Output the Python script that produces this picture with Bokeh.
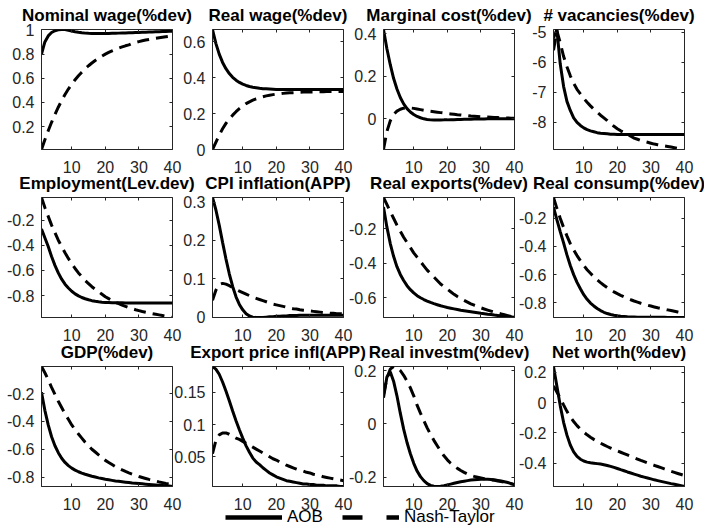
import numpy as np
from bokeh.plotting import figure
from bokeh.layouts import row, column
from bokeh.models import (Range1d, FixedTicker, LinearAxis, Legend, LegendItem,
                          CustomLabelingPolicy)
from bokeh.embed import file_html
from bokeh.resources import INLINE

quarters = list(range(1, 41))
xticks = [10, 20, 30, 40]
series_names = ["AOB", "Nash-Taylor"]

titles = ["Nominal wage(%dev)", "Real wage(%dev)", "Marginal cost(%dev)", "# vacancies(%dev)",
          "Employment(Lev.dev)", "CPI inflation(APP)", "Real exports(%dev)", "Real consump(%dev)",
          "GDP(%dev)", "Export price infl(APP)", "Real investm(%dev)", "Net worth(%dev)"]

aob_nominal_wage = [0.800, 0.900, 0.950, 0.978, 0.993, 1.000, 1.003, 1.002, 0.997, 0.991,
                    0.985, 0.980, 0.976, 0.973, 0.971, 0.970, 0.969, 0.969, 0.969, 0.969,
                    0.970, 0.971, 0.972, 0.973, 0.974, 0.975, 0.976, 0.977, 0.978, 0.979,
                    0.980, 0.981, 0.982, 0.983, 0.984, 0.985, 0.986, 0.987, 0.988, 0.989]
nt_nominal_wage = [0.010, 0.090, 0.165, 0.235, 0.300, 0.360, 0.415, 0.465, 0.510, 0.550,
                   0.587, 0.620, 0.650, 0.678, 0.703, 0.726, 0.747, 0.766, 0.783, 0.799,
                   0.813, 0.826, 0.838, 0.849, 0.859, 0.868, 0.876, 0.888, 0.896, 0.903,
                   0.910, 0.916, 0.921, 0.926, 0.931, 0.935, 0.939, 0.943, 0.947, 0.950]

aob_real_wage = [0.667, 0.590, 0.530, 0.484, 0.449, 0.422, 0.401, 0.385, 0.373, 0.363,
                 0.356, 0.350, 0.346, 0.343, 0.340, 0.338, 0.337, 0.336, 0.335, 0.334,
                 0.334, 0.333, 0.333, 0.333, 0.333, 0.333, 0.333, 0.333, 0.333, 0.333,
                 0.333, 0.333, 0.333, 0.333, 0.333, 0.333, 0.333, 0.333, 0.333, 0.333]
nt_real_wage = [0.000, 0.040, 0.080, 0.115, 0.145, 0.170, 0.191, 0.210, 0.227, 0.242,
                0.255, 0.265, 0.274, 0.282, 0.288, 0.293, 0.298, 0.302, 0.305, 0.308,
                0.310, 0.312, 0.314, 0.315, 0.316, 0.317, 0.318, 0.319, 0.319, 0.320,
                0.320, 0.321, 0.321, 0.321, 0.322, 0.322, 0.322, 0.323, 0.323, 0.323]

aob_marginal_cost = [0.419, 0.330, 0.255, 0.190, 0.140, 0.100, 0.070, 0.048, 0.032, 0.020,
                     0.011, 0.005, 0.000, -0.003, -0.005, -0.006, -0.006, -0.006, -0.005, -0.005,
                     -0.004, -0.004, -0.003, -0.003, -0.002, -0.002, -0.002, -0.001, -0.001, -0.001,
                     -0.001, 0.000, 0.000, 0.000, 0.000, 0.000, 0.000, 0.000, 0.000, 0.000]
nt_marginal_cost = [-0.144, -0.060, -0.010, 0.020, 0.036, 0.045, 0.050, 0.052, 0.051, 0.049,
                    0.046, 0.043, 0.040, 0.037, 0.035, 0.033, 0.031, 0.029, 0.027, 0.025,
                    0.023, 0.021, 0.019, 0.018, 0.016, 0.015, 0.013, 0.012, 0.011, 0.010,
                    0.009, 0.008, 0.007, 0.006, 0.006, 0.005, 0.004, 0.004, 0.003, 0.003]

aob_vacancies = [-5.20, -4.91, -6.05, -6.80, -7.30, -7.60, -7.85, -8.00, -8.10, -8.18,
                 -8.24, -8.28, -8.31, -8.34, -8.36, -8.37, -8.38, -8.39, -8.39, -8.40,
                 -8.40, -8.40, -8.40, -8.40, -8.40, -8.40, -8.40, -8.40, -8.40, -8.40,
                 -8.40, -8.40, -8.40, -8.40, -8.40, -8.40, -8.40, -8.40, -8.40, -8.40]
nt_vacancies = [-5.60, -4.95, -5.35, -5.80, -6.15, -6.45, -6.70, -6.90, -7.05, -7.20,
                -7.33, -7.45, -7.56, -7.66, -7.76, -7.85, -7.94, -8.05, -8.13, -8.21,
                -8.28, -8.34, -8.40, -8.46, -8.52, -8.56, -8.60, -8.63, -8.66, -8.69,
                -8.72, -8.74, -8.76, -8.78, -8.80, -8.82, -8.84, -8.86, -8.88, -8.90]

aob_employment = [-0.270, -0.340, -0.410, -0.490, -0.560, -0.620, -0.670, -0.710, -0.740, -0.766,
                  -0.787, -0.803, -0.816, -0.826, -0.834, -0.841, -0.846, -0.850, -0.853, -0.855,
                  -0.856, -0.857, -0.858, -0.858, -0.858, -0.859, -0.859, -0.859, -0.859, -0.860,
                  -0.860, -0.860, -0.860, -0.860, -0.860, -0.860, -0.860, -0.860, -0.860, -0.860]
nt_employment = [-0.020, -0.100, -0.170, -0.240, -0.300, -0.360, -0.410, -0.460, -0.505, -0.545,
                 -0.585, -0.620, -0.650, -0.680, -0.705, -0.730, -0.750, -0.770, -0.790, -0.810,
                 -0.825, -0.840, -0.855, -0.865, -0.877, -0.887, -0.897, -0.905, -0.913, -0.920,
                 -0.927, -0.933, -0.939, -0.944, -0.949, -0.954, -0.959, -0.964, -0.969, -0.975]

aob_cpi_inflation = [0.312, 0.280, 0.240, 0.195, 0.152, 0.113, 0.080, 0.053, 0.033, 0.019,
                     0.009, 0.003, 0.000, -0.001, -0.001, -0.001, 0.000, 0.001, 0.001, 0.002,
                     0.002, 0.003, 0.003, 0.004, 0.004, 0.004, 0.005, 0.005, 0.005, 0.005,
                     0.005, 0.005, 0.005, 0.005, 0.005, 0.005, 0.005, 0.005, 0.005, 0.005]
nt_cpi_inflation = [0.044, 0.070, 0.085, 0.088, 0.086, 0.082, 0.077, 0.072, 0.068, 0.064,
                    0.060, 0.056, 0.052, 0.049, 0.046, 0.043, 0.040, 0.037, 0.034, 0.032,
                    0.030, 0.028, 0.026, 0.024, 0.022, 0.021, 0.019, 0.018, 0.017, 0.016,
                    0.015, 0.014, 0.013, 0.012, 0.011, 0.010, 0.010, 0.009, 0.009, 0.008]

aob_real_exports = [-0.075, -0.190, -0.285, -0.360, -0.420, -0.465, -0.500, -0.530, -0.553, -0.572,
                    -0.588, -0.600, -0.610, -0.619, -0.627, -0.634, -0.640, -0.646, -0.651, -0.656,
                    -0.660, -0.664, -0.668, -0.672, -0.675, -0.678, -0.681, -0.684, -0.687, -0.690,
                    -0.692, -0.695, -0.697, -0.700, -0.702, -0.705, -0.707, -0.709, -0.711, -0.713]
nt_real_exports = [-0.020, -0.060, -0.100, -0.140, -0.180, -0.215, -0.250, -0.280, -0.310, -0.340,
                   -0.365, -0.390, -0.415, -0.440, -0.460, -0.480, -0.500, -0.520, -0.535, -0.550,
                   -0.565, -0.580, -0.593, -0.605, -0.615, -0.625, -0.635, -0.643, -0.651, -0.658,
                   -0.665, -0.671, -0.677, -0.683, -0.688, -0.693, -0.698, -0.703, -0.708, -0.714]

aob_real_consumption = [-0.122, -0.210, -0.295, -0.375, -0.460, -0.535, -0.600, -0.655, -0.700, -0.742,
                        -0.775, -0.802, -0.822, -0.840, -0.855, -0.867, -0.876, -0.883, -0.888, -0.892,
                        -0.895, -0.897, -0.899, -0.900, -0.901, -0.902, -0.902, -0.902, -0.902, -0.903,
                        -0.903, -0.903, -0.903, -0.903, -0.904, -0.904, -0.904, -0.904, -0.904, -0.904]
nt_real_consumption = [-0.053, -0.130, -0.200, -0.265, -0.325, -0.380, -0.425, -0.465, -0.500, -0.535,
                       -0.565, -0.590, -0.615, -0.637, -0.657, -0.675, -0.692, -0.708, -0.722, -0.735,
                       -0.747, -0.758, -0.768, -0.778, -0.787, -0.795, -0.803, -0.810, -0.817, -0.823,
                       -0.829, -0.835, -0.840, -0.845, -0.850, -0.855, -0.860, -0.865, -0.870, -0.875]

aob_gdp = [-0.190, -0.320, -0.425, -0.510, -0.575, -0.625, -0.665, -0.695, -0.718, -0.736,
           -0.750, -0.762, -0.772, -0.780, -0.787, -0.794, -0.800, -0.806, -0.811, -0.816,
           -0.820, -0.824, -0.828, -0.831, -0.834, -0.837, -0.840, -0.843, -0.845, -0.847,
           -0.849, -0.851, -0.853, -0.855, -0.857, -0.859, -0.861, -0.863, -0.865, -0.868]
nt_gdp = [-0.005, -0.050, -0.100, -0.155, -0.205, -0.255, -0.300, -0.345, -0.385, -0.425,
          -0.460, -0.490, -0.520, -0.550, -0.575, -0.600, -0.620, -0.640, -0.660, -0.680,
          -0.695, -0.710, -0.725, -0.737, -0.749, -0.760, -0.770, -0.779, -0.788, -0.796,
          -0.803, -0.810, -0.817, -0.823, -0.829, -0.835, -0.840, -0.846, -0.851, -0.857]

aob_export_price = [0.190, 0.186, 0.178, 0.166, 0.152, 0.137, 0.121, 0.106, 0.092, 0.079,
                    0.067, 0.057, 0.048, 0.042, 0.038, 0.033, 0.029, 0.025, 0.022, 0.019,
                    0.017, 0.015, 0.013, 0.012, 0.011, 0.010, 0.009, 0.008, 0.008, 0.007,
                    0.007, 0.006, 0.006, 0.006, 0.005, 0.005, 0.005, 0.005, 0.004, 0.004]
nt_export_price = [0.055, 0.075, 0.084, 0.087, 0.087, 0.085, 0.082, 0.079, 0.077, 0.074,
                   0.071, 0.068, 0.065, 0.062, 0.059, 0.056, 0.053, 0.050, 0.047, 0.045,
                   0.042, 0.040, 0.037, 0.035, 0.033, 0.031, 0.029, 0.028, 0.026, 0.025,
                   0.023, 0.022, 0.021, 0.019, 0.018, 0.017, 0.016, 0.015, 0.014, 0.013]

aob_real_investment = [0.098, 0.175, 0.195, 0.160, 0.105, 0.040, -0.020, -0.070, -0.112, -0.148,
                       -0.177, -0.198, -0.213, -0.224, -0.231, -0.234, -0.235, -0.234, -0.232, -0.229,
                       -0.226, -0.223, -0.220, -0.217, -0.215, -0.213, -0.211, -0.210, -0.209, -0.208,
                       -0.208, -0.208, -0.209, -0.210, -0.212, -0.214, -0.217, -0.220, -0.224, -0.228]
nt_real_investment = [0.110, 0.170, 0.205, 0.215, 0.212, 0.200, 0.182, 0.160, 0.135, 0.105,
                      0.070, 0.040, 0.012, -0.015, -0.040, -0.062, -0.082, -0.102, -0.120, -0.135,
                      -0.148, -0.158, -0.167, -0.175, -0.182, -0.188, -0.193, -0.197, -0.200, -0.203,
                      -0.206, -0.208, -0.210, -0.212, -0.214, -0.216, -0.219, -0.222, -0.225, -0.228]

aob_net_worth = [0.238, 0.110, -0.020, -0.130, -0.215, -0.280, -0.325, -0.355, -0.374, -0.386,
                 -0.393, -0.397, -0.400, -0.403, -0.406, -0.410, -0.415, -0.421, -0.428, -0.435,
                 -0.443, -0.450, -0.458, -0.465, -0.472, -0.479, -0.486, -0.492, -0.498, -0.504,
                 -0.510, -0.515, -0.520, -0.525, -0.530, -0.535, -0.539, -0.544, -0.549, -0.554]
nt_net_worth = [0.110, 0.070, 0.030, -0.015, -0.058, -0.095, -0.125, -0.152, -0.175, -0.195,
                -0.213, -0.229, -0.243, -0.256, -0.268, -0.279, -0.290, -0.300, -0.310, -0.319,
                -0.328, -0.337, -0.346, -0.355, -0.364, -0.373, -0.382, -0.390, -0.398, -0.406,
                -0.414, -0.422, -0.430, -0.438, -0.446, -0.454, -0.461, -0.468, -0.475, -0.482]

yticks = [[0.2, 0.4, 0.6, 0.8, 1], [0, 0.2, 0.4, 0.6], [0, 0.2, 0.4], [-8, -7, -6, -5],
          [-0.8, -0.6, -0.4, -0.2], [0, 0.1, 0.2, 0.3], [-0.6, -0.4, -0.2], [-0.8, -0.6, -0.4, -0.2],
          [-0.8, -0.6, -0.4, -0.2], [0.05, 0.1, 0.15], [-0.2, 0, 0.2], [-0.4, -0.2, 0, 0.2]]
ytick_labels = [["0.2", "0.4", "0.6", "0.8", "1"], ["0", "0.2", "0.4", "0.6"], ["0", "0.2", "0.4"],
                ["-8", "-7", "-6", "-5"], ["-0.8", "-0.6", "-0.4", "-0.2"], ["0", "0.1", "0.2", "0.3"],
                ["-0.6", "-0.4", "-0.2"], ["-0.8", "-0.6", "-0.4", "-0.2"], ["-0.8", "-0.6", "-0.4", "-0.2"],
                ["0.05", "0.1", "0.15"], ["-0.2", "0", "0.2"], ["-0.4", "-0.2", "0", "0.2"]]

aob_series = [aob_nominal_wage, aob_real_wage, aob_marginal_cost, aob_vacancies,
              aob_employment, aob_cpi_inflation, aob_real_exports, aob_real_consumption,
              aob_gdp, aob_export_price, aob_real_investment, aob_net_worth]
nt_series = [nt_nominal_wage, nt_real_wage, nt_marginal_cost, nt_vacancies,
             nt_employment, nt_cpi_inflation, nt_real_exports, nt_real_consumption,
             nt_gdp, nt_export_price, nt_real_investment, nt_net_worth]

# layout geometry (page origin at 0,0: bokeh's template has no body margin)
FRAME_W, FRAME_H = 131, 120
TOP, BOTTOM = 32, 30
col_left = [40, 45, 45, 45]
col_right = [30, 30, 30, 20]
col_margin = [1, -35, -35, -36]
row_margin = [-3, -14, -13]
AX = "#262626"
FONT = "Liberation Sans"
DASH = "12 7"


def style_axis(ax, ticks, labels_on, standoff):
    ax.ticker = FixedTicker(ticks=ticks)
    ax.major_tick_in = 3
    ax.major_tick_out = 0
    ax.minor_tick_line_color = None
    ax.axis_line_color = AX
    ax.major_tick_line_color = AX
    ax.major_label_text_font = FONT
    ax.major_label_text_color = AX
    ax.major_label_standoff = standoff
    if labels_on:
        ax.major_label_text_font_size = "16px"
    else:
        ax.major_label_text_font_size = "0px"
        ax.major_label_policy = CustomLabelingPolicy(code="return")


def panel(i):
    c = i % 4
    aob, nt = aob_series[i], nt_series[i]
    lo = min(min(aob), min(nt))
    hi = max(max(aob), max(nt))
    p = figure(width=col_left[c] + FRAME_W + col_right[c], height=TOP + FRAME_H + BOTTOM,
               output_backend="svg", toolbar_location=None,
               x_range=Range1d(1, 40), y_range=Range1d(lo, hi),
               min_border_left=col_left[c], min_border_right=col_right[c],
               min_border_top=TOP, min_border_bottom=BOTTOM,
               border_fill_color=None, background_fill_color="white",
               outline_line_color=AX, outline_line_width=1,
               title=titles[i], margin=(0, 0, 0, col_margin[c]))
    p.title.align = "center"
    p.title.text_font = FONT
    p.title.text_font_size = "17px"
    p.title.text_font_style = "bold"
    p.title.text_color = "black"
    p.title.standoff = 9
    p.grid.visible = False
    style_axis(p.xaxis[0], xticks, True, 11)
    style_axis(p.yaxis[0], yticks[i], True, 7)
    p.yaxis[0].major_label_overrides = {t: s for t, s in zip(yticks[i], ytick_labels[i])}
    top = LinearAxis()
    style_axis(top, xticks, False, 0)
    top.axis_line_color = None
    p.add_layout(top, "above")
    right = LinearAxis()
    style_axis(right, yticks[i], False, 0)
    right.axis_line_color = None
    p.add_layout(right, "right")
    p.line(quarters, aob, line_color="black", line_width=3)
    p.line(quarters, nt, line_color="black", line_width=3, line_dash=DASH)
    return p


figs = [panel(i) for i in range(12)]
rows = [row(figs[4 * r:4 * r + 4], margin=(row_margin[r], 0, 0, 0)) for r in range(3)]

lg = figure(width=684, height=22, output_backend="svg", toolbar_location=None,
            x_axis_location=None, y_axis_location=None, min_border=0,
            outline_line_color=None, border_fill_color=None, background_fill_color=None,
            x_range=Range1d(0, 1), y_range=Range1d(0, 1), margin=(-11, 0, -11, 0))
lg.grid.visible = False
# legend-only renderers: no visible data
r_aob = lg.line(x=np.array([0.0]), y=np.array([np.nan]), line_color="black", line_width=4.5)
r_nt = lg.line(x=np.array([0.0]), y=np.array([np.nan]), line_color="black", line_width=4.5,
               line_dash="20 24")
legend = Legend(items=[LegendItem(label=series_names[0], renderers=[r_aob]),
                       LegendItem(label=series_names[1], renderers=[r_nt])],
                orientation="horizontal", location=(225, 0),
                glyph_width=57, glyph_height=16, label_height=16, label_standoff=5,
                spacing=19, padding=0, margin=0,
                label_text_font=FONT, label_text_font_size="17px", label_text_color="black",
                border_line_color=None, background_fill_alpha=0)
lg.add_layout(legend)

layout = column(rows + [lg])
open("out.html", "w").write(file_html(layout, INLINE, title="IRF panels"))
